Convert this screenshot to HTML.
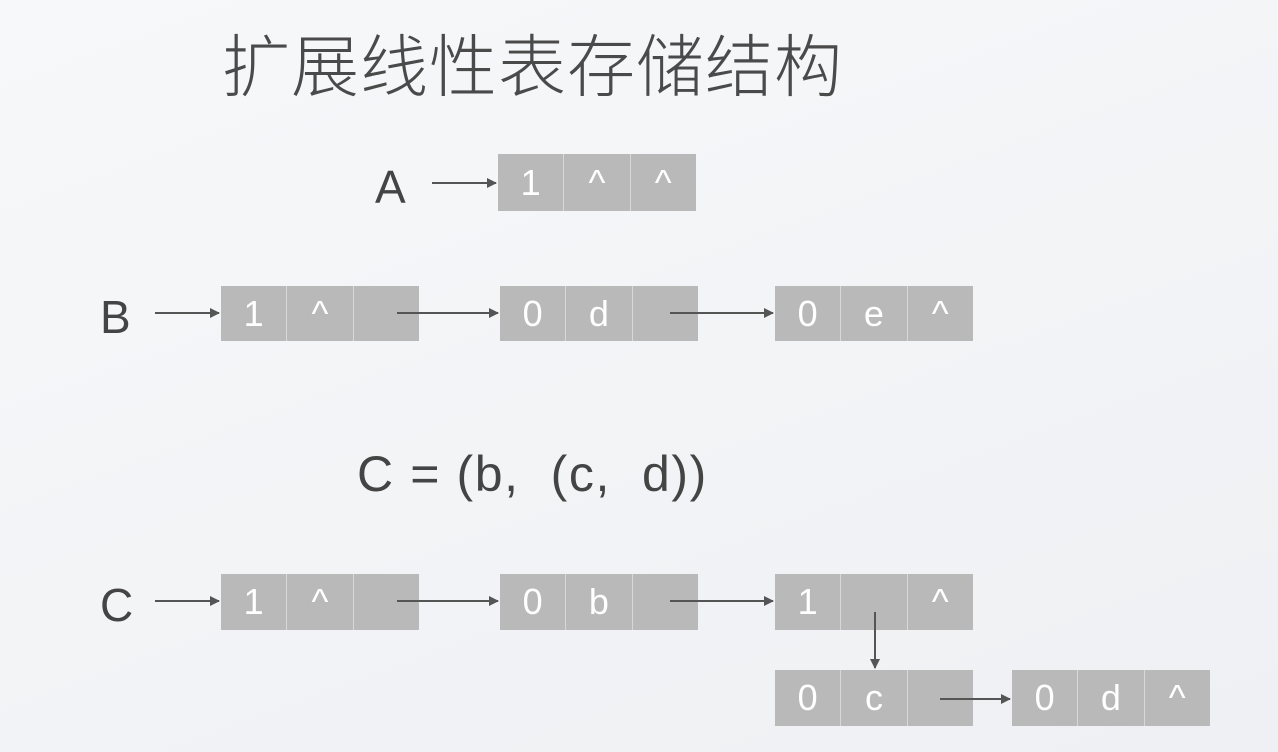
<!DOCTYPE html>
<html><head><meta charset="utf-8"><style>
body{margin:0;width:1278px;height:752px;overflow:hidden;background:linear-gradient(160deg,#f7f8fa,#eef0f3);font-family:"Liberation Sans","Noto Sans CJK SC",sans-serif;position:relative}
.t{position:absolute;color:#444;white-space:nowrap}
.n{position:absolute;display:flex;gap:1px;background:#d8d8d8}
.n div{width:65.3px;background:#b9b9b9;color:#fff;font-size:36px;display:flex;align-items:center;justify-content:center}
svg{position:absolute;left:0;top:0}
</style></head><body>
<div class="t" style="left:222px;top:12px;font-size:68px;letter-spacing:1px;font-family:'Noto Sans CJK SC',sans-serif;font-weight:300;color:#4a4a4a">扩展线性表存储结构</div>
<div class="t" style="left:375px;top:160px;font-size:46px">A</div>
<div class="t" style="left:100px;top:290px;font-size:46px">B</div>
<div class="t" style="left:357px;top:445px;font-size:50px;letter-spacing:1.6px">C = (b,&nbsp; (c,&nbsp; d))</div>
<div class="t" style="left:100px;top:578px;font-size:46px">C</div>

<div class="n" style="left:498px;top:154px;height:57px"><div>1</div><div>^</div><div>^</div></div>
<div class="n" style="left:221px;top:286px;height:55px"><div>1</div><div>^</div><div></div></div>
<div class="n" style="left:500px;top:286px;height:55px"><div>0</div><div>d</div><div></div></div>
<div class="n" style="left:775px;top:286px;height:55px"><div>0</div><div>e</div><div>^</div></div>
<div class="n" style="left:221px;top:574px;height:56px"><div>1</div><div>^</div><div></div></div>
<div class="n" style="left:500px;top:574px;height:56px"><div>0</div><div>b</div><div></div></div>
<div class="n" style="left:775px;top:574px;height:56px"><div>1</div><div></div><div>^</div></div>
<div class="n" style="left:775px;top:670px;height:56px"><div>0</div><div>c</div><div></div></div>
<div class="n" style="left:1012px;top:670px;height:56px"><div>0</div><div>d</div><div>^</div></div>

<svg width="1278" height="752">
<defs><marker id="a" markerWidth="10" markerHeight="10" refX="9" refY="5" orient="auto" markerUnits="userSpaceOnUse"><path d="M0,0L10,5L0,10z" fill="#555"/></marker></defs>
<g stroke="#555" stroke-width="2" marker-end="url(#a)">
<line x1="432" y1="183" x2="496" y2="183"/>
<line x1="155" y1="313" x2="219" y2="313"/>
<line x1="397" y1="313" x2="498" y2="313"/>
<line x1="670" y1="313" x2="773" y2="313"/>
<line x1="155" y1="601" x2="219" y2="601"/>
<line x1="397" y1="601" x2="498" y2="601"/>
<line x1="670" y1="601" x2="773" y2="601"/>
<line x1="875" y1="612" x2="875" y2="668"/>
<line x1="940" y1="699" x2="1010" y2="699"/>
</g></svg>
</body></html>
